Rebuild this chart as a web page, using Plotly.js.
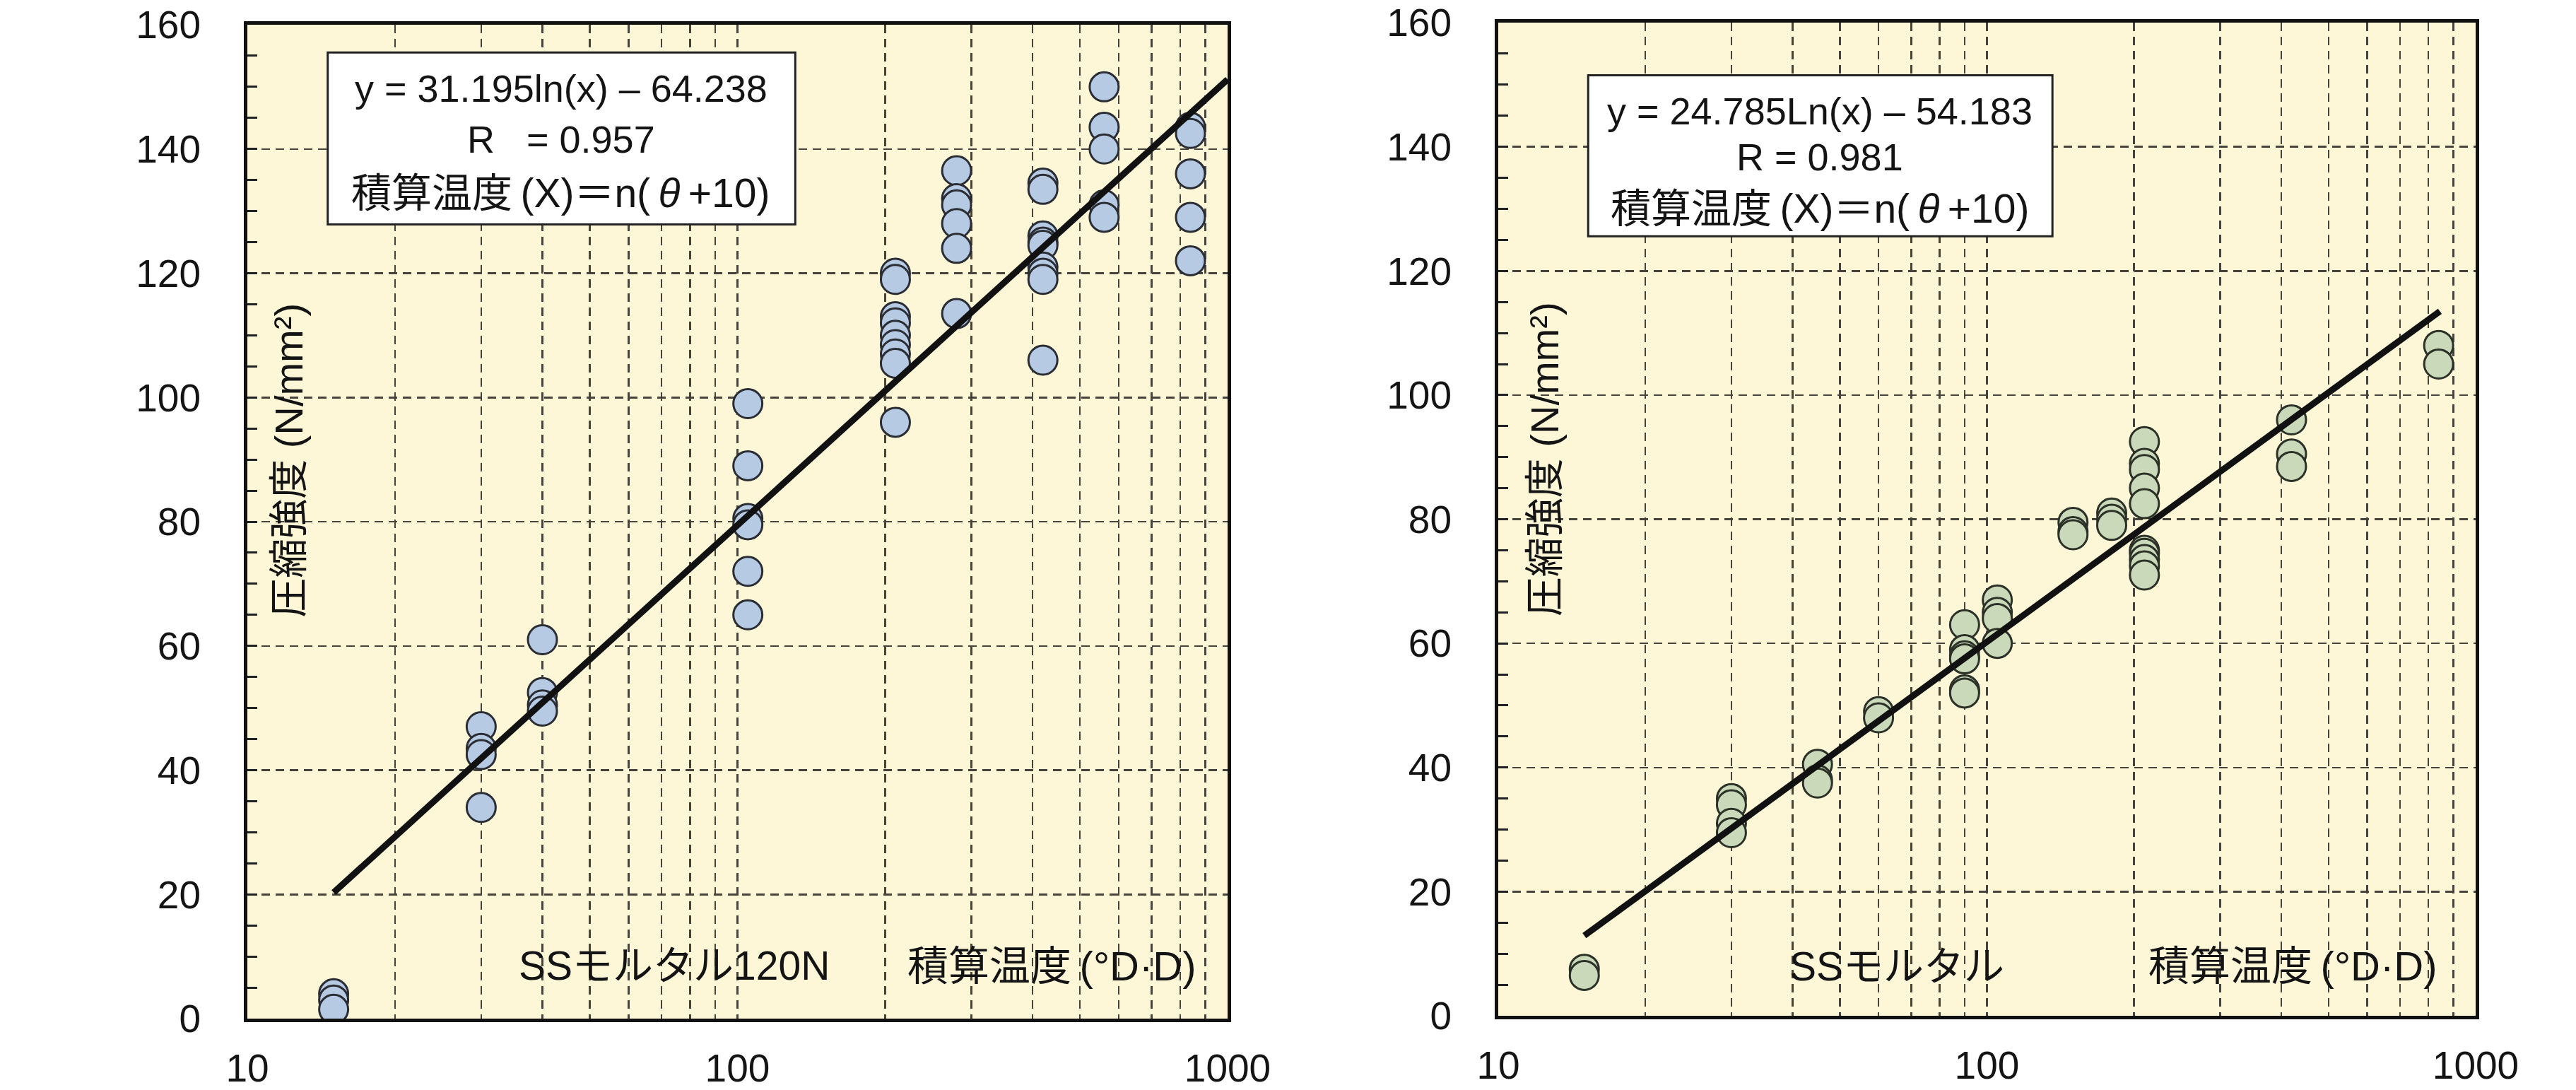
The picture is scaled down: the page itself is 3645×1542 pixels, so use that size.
<!DOCTYPE html>
<html>
<head>
<meta charset="utf-8">
<script src="https://cdn.plot.ly/plotly-3.0.1.min.js"></script>
<style>html,body{margin:0;padding:0;background:#fff;}#chart{width:3645px;height:1542px;}</style>
</head>
<body>
<div id="chart"></div>
<script>
// ---- data ----
const leftX = [15,15,15, 30,30,30,30, 40,40,40,40, 105,105,105,105,105,105,
  210,210,210,210,210,210,210,210,210, 280,280,280,280,280,280,
  420,420,420,420,420,420,420,420,420, 560,560,560,560,560, 840,840,840,840,840];
const leftY = [4,3,1.5, 47,43.5,42.5,34, 61,52.5,50.5,49.5, 99,89,80.5,79.5,72,65,
  120,119,113,112,110,108.5,107,105.5,96, 136.5,132,131,128,124,113.5,
  134.5,133.5,126,125,124.5,121,120,119,106, 150,143.5,140,131,129, 143.5,142.5,136,129,122];
const rightX = [15,15, 30,30,30,30, 45,45,45, 60,60, 90,90,90,90,90,90, 105,105,105,105,
  150,150,150, 180,180,180, 210,210,210,210,210,210,210,210,210,210, 420,420,420, 840,840];
const rightY = [7.5,6.5, 35,34,31,29.5, 40.5,38,37.5, 49,48, 63,59,58,57.5,52.5,52, 67,65,64,60,
  79.5,78,77.5, 81,80,79, 92.5,89,88,85,82.5,75,74.5,73.5,72.5,71, 96,90.5,88.5, 108,105];
// regression lines (straight on a log x axis): end points
const leftFitX = [15, 1000];
const leftFitY = [20.3, 151.2];
const rightFitX = [15, 845];
const rightFitY = [12.9, 113.5];
const xTickVals = [10, 100, 1000];
const xTickText = ['10', '100', '1000'];
const yTickVals = [0, 20, 40, 60, 80, 100, 120, 140, 160];
const xMinorVals = [20,30,40,50,60,70,80,90,200,300,400,500,600,700,800,900];
const leftBox = ['y = 31.195ln(x) \u2013 64.238', 'R\u00a0\u00a0\u00a0= 0.957', '積算温度\u2009(X)＝n(\u2009<i>θ</i>\u2009+10)'];
const rightBox = ['y = 24.785Ln(x) \u2013 54.183', 'R = 0.981', '積算温度\u2009(X)＝n(\u2009<i>θ</i>\u2009+10)'];
const yTitle = '圧縮強度 (N/mm²)';
const leftLabel = 'SSモルタル120N';
const rightLabel = 'SSモルタル';
const xLabel = '積算温度\u2009(°D·D)';

const FONT = 'Liberation Sans, Arial, Noto Sans CJK JP, sans-serif';
const TXT = '#141414';
const GRID = '#45433a';

function xaxis(domain, anchor) {
  return {
    type: 'log', range: [1, 3], domain: domain, anchor: anchor,
    tickmode: 'array', tickvals: xTickVals, ticktext: xTickText,
    ticks: '', ticklabelstandoff: 18,
    tickfont: {family: FONT, size: 55, color: TXT},
    showgrid: true, gridcolor: GRID, gridwidth: 2.5, griddash: '12px,8px',
    minor: {tickmode: 'array', tickvals: xMinorVals, showgrid: true, gridcolor: GRID, gridwidth: 2.5, griddash: '12px,8px', ticks: ''},
    showline: true, linecolor: '#111', linewidth: 5, mirror: true, zeroline: false
  };
}
function yaxis(domain, anchor) {
  return {
    range: [0, 160], domain: domain, anchor: anchor,
    tickmode: 'array', tickvals: yTickVals,
    ticks: 'inside', ticklen: 14, tickwidth: 3, tickcolor: '#222', ticklabelstandoff: 50,
    tickfont: {family: FONT, size: 55, color: TXT},
    showgrid: true, gridcolor: GRID, gridwidth: 2.5, griddash: '12px,8px',
    minor: {dtick: 5, ticks: 'inside', ticklen: 14, tickwidth: 3, tickcolor: '#222', showgrid: false},
    showline: true, linecolor: '#111', linewidth: 5, mirror: true, zeroline: false
  };
}

const traces = [
  {x: leftX, y: leftY, xaxis: 'x', yaxis: 'y', type: 'scatter', mode: 'markers',
   marker: {size: 41, color: '#b7cae4', line: {color: '#2a2d33', width: 3}}, hoverinfo: 'x+y'},
  {x: leftFitX, y: leftFitY, xaxis: 'x', yaxis: 'y', type: 'scatter', mode: 'lines',
   line: {color: '#111', width: 9}},
  {x: rightX, y: rightY, xaxis: 'x2', yaxis: 'y2', type: 'scatter', mode: 'markers',
   marker: {size: 41, color: '#c9d9b9', line: {color: '#2c3128', width: 3}}, hoverinfo: 'x+y'},
  {x: rightFitX, y: rightFitY, xaxis: 'x2', yaxis: 'y2', type: 'scatter', mode: 'lines',
   line: {color: '#111', width: 9}}
];

function ann(xref, yref, x, y, text, size, extra) {
  return Object.assign({xref: xref, yref: yref, x: x, y: y, text: text, showarrow: false,
    xanchor: 'center', yanchor: 'middle', font: {family: FONT, size: size, color: TXT}}, extra || {});
}

const annotations = [
  // left box text
  ann('x domain', 'y domain', 0.32, 0.936, leftBox[0], 54),
  ann('x domain', 'y domain', 0.32, 0.885, leftBox[1], 54),
  ann('x domain', 'y domain', 0.32, 0.831, leftBox[2], 57),
  ann('x domain', 'y domain', 0.0425, 0.562, yTitle, 56, {textangle: -90}),
  ann('x domain', 'y domain', 0.4355, 0.053, leftLabel, 57),
  ann('x domain', 'y domain', 0.821, 0.053, xLabel, 58),
  // right
  ann('x2 domain', 'y2 domain', 0.329, 0.911, rightBox[0], 54),
  ann('x2 domain', 'y2 domain', 0.329, 0.865, rightBox[1], 54),
  ann('x2 domain', 'y2 domain', 0.329, 0.813, rightBox[2], 57),
  ann('x2 domain', 'y2 domain', 0.047, 0.56, yTitle, 56, {textangle: -90}),
  ann('x2 domain', 'y2 domain', 0.408, 0.05, rightLabel, 57),
  ann('x2 domain', 'y2 domain', 0.813, 0.05, xLabel, 58)
];

const shapes = [
  {type: 'rect', xref: 'x domain', yref: 'y domain', x0: 0.082, x1: 0.559, y0: 0.799, y1: 0.972,
   fillcolor: '#ffffff', line: {color: '#222', width: 3}, layer: 'above'},
  {type: 'rect', xref: 'x2 domain', yref: 'y2 domain', x0: 0.092, x1: 0.567, y0: 0.785, y1: 0.947,
   fillcolor: '#ffffff', line: {color: '#222', width: 3}, layer: 'above'}
];

const layout = {
  width: 3645, height: 1542,
  margin: {l: 0, r: 0, t: 0, b: 0},
  paper_bgcolor: '#ffffff', plot_bgcolor: '#fdf7d8',
  showlegend: false,
  xaxis: xaxis([0.09602, 0.47654], 'y'),
  yaxis: yaxis([0.0655, 0.9773], 'x'),
  xaxis2: xaxis([0.58162, 0.96104], 'y2'),
  yaxis2: yaxis([0.0681, 0.9792], 'x2'),
  annotations: annotations,
  shapes: shapes
};

Plotly.newPlot('chart', traces, layout, {displayModeBar: false, staticPlot: true});
</script>
</body>
</html>
